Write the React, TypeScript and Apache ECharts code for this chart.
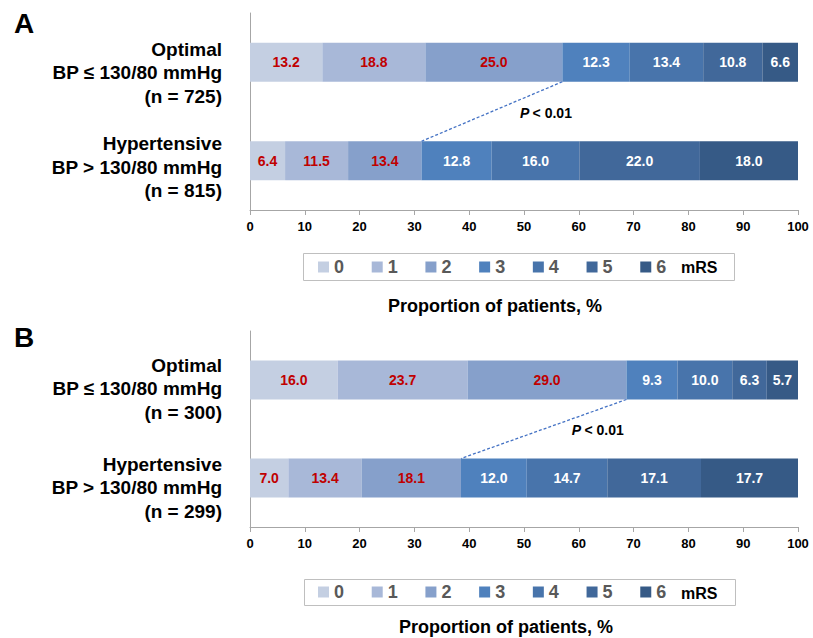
import React, { useEffect, useRef } from "react";
import * as echarts from "echarts";

// mRS grades shown in each stacked bar, from 0 (no symptoms) to 6 (death)
const mrsLevels = ["0", "1", "2", "3", "4", "5", "6"];
const mrsColors = ["#C4CFE2", "#A8B8D8", "#86A0CB", "#4F81BD", "#4874AB", "#41689A", "#365A86"];

// Panel A cohort
const groupsA = ["Optimal\nBP ≤ 130/80 mmHg\n(n = 725)", "Hypertensive\nBP > 130/80 mmHg\n(n = 815)"];
const optimalA = [13.2, 18.8, 25.0, 12.3, 13.4, 10.8, 6.6];
const hypertensiveA = [6.4, 11.5, 13.4, 12.8, 16.0, 22.0, 18.0];

// Panel B cohort
const groupsB = ["Optimal\nBP ≤ 130/80 mmHg\n(n = 300)", "Hypertensive\nBP > 130/80 mmHg\n(n = 299)"];
const optimalB = [16.0, 23.7, 29.0, 9.3, 10.0, 6.3, 5.7];
const hypertensiveB = [7.0, 13.4, 18.1, 12.0, 14.7, 17.1, 17.7];

// Axis scale
const xMin = 0;
const xMax = 100;
const xStep = 10;

const panelLetters = ["A", "B"];
const axisTitle = "Proportion of patients, %";
const pValue = "< 0.01";
const legendSuffix = "mRS";

const FONT = "'Liberation Sans', Arial, Helvetica, sans-serif";
const RED = "#C00000";
const AXIS_GREY = "#A6A6A6";
const BAR_WIDTH = 39;

type Panel = {
  groups: string[];
  optimal: number[];
  hypertensive: number[];
  grid: { left: number; top: number; width: number; height: number };
  labelShift: number[];
  legendTop: number;
  legendBox: { x: number; y: number; width: number; height: number };
  titleX: number;
  titleY: number;
  letterY: number;
};

const panels: Panel[] = [
  {
    groups: groupsA,
    optimal: optimalA,
    hypertensive: hypertensiveA,
    grid: { left: 250, top: 13, width: 548, height: 197 },
    labelShift: [10.5, 6.5],
    legendTop: 258,
    legendBox: { x: 303.5, y: 253.5, width: 431, height: 27 },
    titleX: 495,
    titleY: 306,
    letterY: 23,
  },
  {
    groups: groupsB,
    optimal: optimalB,
    hypertensive: hypertensiveB,
    grid: { left: 250, top: 331, width: 548, height: 196 },
    labelShift: [8.5, 9.5],
    legendTop: 583,
    legendBox: { x: 304.5, y: 579.5, width: 431, height: 26 },
    titleX: 506,
    titleY: 627,
    letterY: 337,
  },
];

const sum = (arr: number[], n: number) => arr.slice(0, n).reduce((a, b) => a + b, 0);

export default function App() {
  const ref = useRef<HTMLDivElement>(null);

  useEffect(() => {
    if (!ref.current) return;
    const chart = echarts.init(ref.current, undefined, { renderer: "svg" });

    const series: any[] = [];
    panels.forEach((p, pi) => {
      mrsLevels.forEach((lvl, i) => {
        series.push({
          type: "bar",
          name: lvl,
          stack: "panel" + pi,
          xAxisIndex: pi,
          yAxisIndex: pi,
          barWidth: BAR_WIDTH,
          data: [p.optimal[i], p.hypertensive[i]],
          itemStyle: { color: mrsColors[i] },
          label: {
            show: true,
            position: "inside",
            formatter: (d: any) => Number(d.value).toFixed(1),
            color: i < 3 ? RED : "#FFFFFF",
            fontWeight: "bold",
            fontSize: 14,
            fontFamily: FONT,
          },
        });
      });
    });

    const option: any = {
      animation: false,
      backgroundColor: "#FFFFFF",
      textStyle: { fontFamily: FONT },
      grid: panels.map((p) => ({ ...p.grid, containLabel: false })),
      xAxis: panels.map((_, pi) => ({
        type: "value",
        gridIndex: pi,
        min: xMin,
        max: xMax,
        interval: xStep,
        axisLine: { show: true, lineStyle: { color: AXIS_GREY, width: 1 } },
        axisTick: { show: true, length: 5, lineStyle: { color: AXIS_GREY } },
        axisLabel: { fontSize: 13, fontWeight: "bold", color: "#000", margin: 10, fontFamily: FONT },
        splitLine: { show: false },
      })),
      yAxis: panels.map((p, pi) => ({
        type: "category",
        gridIndex: pi,
        inverse: true,
        data: p.groups,
        axisLine: { show: true, lineStyle: { color: AXIS_GREY, width: 1 } },
        axisTick: { show: false },
        // group names are drawn as multi-line texts beside each band (see graphics below)
        axisLabel: { show: false },
      })),
      legend: panels.map((p) => ({
        data: mrsLevels,
        left: 318,
        top: p.legendTop,
        icon: "rect",
        itemWidth: 11,
        itemHeight: 11,
        itemGap: 27.7,
        padding: 0,
        selectedMode: false,
        textStyle: { fontSize: 18, fontWeight: "bold", color: "#595959", fontFamily: FONT },
      })),
      series,
    };

    chart.setOption(option);

    // Annotations: group names, dashed link between the mRS 2|3 boundaries, P value, legend frame, titles
    const graphics: any[] = [];
    panels.forEach((p, pi) => {
      p.groups.forEach((g, gi) => {
        const c = chart.convertToPixel({ gridIndex: pi }, [xMin, gi]) as number[];
        graphics.push({
          type: "text",
          x: p.grid.left - 28,
          y: c[1] + p.labelShift[gi],
          style: {
            text: g,
            fontSize: 19,
            fontWeight: "bold",
            fontFamily: FONT,
            fill: "#000",
            align: "right",
            verticalAlign: "middle",
            lineHeight: 23.5,
          },
        });
      });

      const topEdge = chart.convertToPixel({ gridIndex: pi }, [sum(p.optimal, 3), 0]) as number[];
      const botEdge = chart.convertToPixel({ gridIndex: pi }, [sum(p.hypertensive, 3), 1]) as number[];
      const x1 = topEdge[0];
      const y1 = topEdge[1] + BAR_WIDTH / 2;
      const x2 = botEdge[0];
      const y2 = botEdge[1] - BAR_WIDTH / 2;
      graphics.push({
        type: "line",
        shape: { x1, y1, x2, y2 },
        style: { stroke: "#4472C4", lineWidth: 1.3, lineDash: [3, 2] },
        z: 10,
      });
      graphics.push({
        type: "text",
        x: (x1 + x2) / 2 + 54,
        y: (y1 + y2) / 2 + 1,
        style: {
          text: "{i|P} {n|" + pValue + "}",
          align: "center",
          verticalAlign: "middle",
          rich: {
            i: { fontStyle: "italic", fontWeight: "bold", fontSize: 14, fontFamily: FONT, fill: "#000" },
            n: { fontWeight: "bold", fontSize: 14, fontFamily: FONT, fill: "#000" },
          },
        },
        z: 10,
      });
      graphics.push({
        type: "rect",
        shape: { ...p.legendBox },
        style: { fill: "none", stroke: "#BFBFBF", lineWidth: 1 },
      });
      graphics.push({
        type: "text",
        x: 681,
        y: p.legendBox.y + p.legendBox.height / 2 + 0.5,
        style: {
          text: legendSuffix,
          fontSize: 16,
          fontWeight: "bold",
          fontFamily: FONT,
          fill: "#000",
          verticalAlign: "middle",
        },
      });
      graphics.push({
        type: "text",
        x: p.titleX,
        y: p.titleY,
        style: {
          text: axisTitle,
          fontSize: 18,
          fontWeight: "bold",
          fontFamily: FONT,
          fill: "#000",
          align: "center",
          verticalAlign: "middle",
        },
      });
      graphics.push({
        type: "text",
        x: 14,
        y: p.letterY,
        style: {
          text: panelLetters[pi],
          fontSize: 28,
          fontWeight: "bold",
          fontFamily: FONT,
          fill: "#000",
          verticalAlign: "middle",
        },
      });
    });

    chart.setOption({ graphic: graphics });

    return () => chart.dispose();
  }, []);

  return (
    <div
      ref={ref}
      style={{ position: "absolute", left: 0, top: 0, width: 813, height: 638, background: "#fff" }}
    />
  );
}
